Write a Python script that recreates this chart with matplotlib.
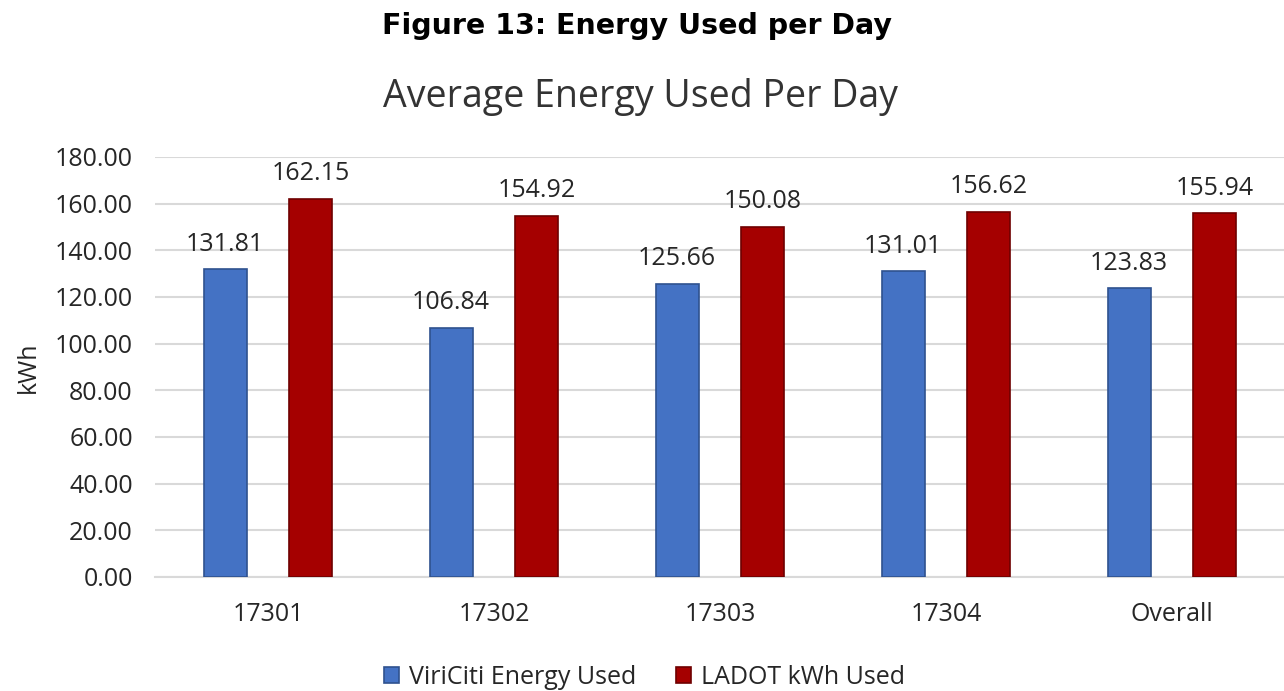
import numpy as np
import matplotlib
matplotlib.use('Agg')
import matplotlib.pyplot as plt

categories = ['17301', '17302', '17303', '17304', 'Overall']
viriciti = [131.81, 106.84, 125.66, 131.01, 123.83]
ladot = [162.15, 154.92, 150.08, 156.62, 155.94]

plt.rcParams['font.family'] = ['Open Sans', 'DejaVu Sans']

fig = plt.figure(figsize=(12.84, 6.91), dpi=100)
ax = fig.add_axes([155 / 1284, 1 - 577 / 691, 1130 / 1284, 420 / 691])

x = np.arange(len(categories))
w = 0.19
b1 = ax.bar(x - 0.19, viriciti, w, color='#4472C4', edgecolor='#2F528F', linewidth=1.2,
            label='ViriCiti Energy Used', zorder=3)
b2 = ax.bar(x + 0.19, ladot, w, color='#A50000', edgecolor='#6E0000', linewidth=1.2,
            label='LADOT kWh Used', zorder=3)

for bars in (b1, b2):
    ax.bar_label(bars, labels=[f'{v:.2f}' for v in bars.datavalues], padding=9,
                 fontsize=18, color='#262626')

ax.set_xlim(-0.5, 4.5)
ax.set_ylim(0, 180)
ax.set_yticks(np.arange(0, 181, 20))
ax.set_yticklabels([f'{v:.2f}' for v in np.arange(0, 181, 20)])
ax.set_xticks(x)
ax.set_xticklabels(categories)
ax.tick_params(axis='both', length=0, labelsize=18)
ax.tick_params(axis='y', pad=16)
ax.tick_params(axis='x', pad=18)
for lab in ax.get_xticklabels() + ax.get_yticklabels():
    lab.set_color('#262626')

ax.grid(axis='y', color='#D9D9D9', linewidth=1.5, zorder=0)
for side in ('top', 'right', 'left'):
    ax.spines[side].set_visible(False)
ax.spines['bottom'].set_color('#D9D9D9')
ax.spines['bottom'].set_linewidth(1.5)

ax.set_ylabel('kWh', fontsize=18, color='#262626', labelpad=10)

fig.text(0.496, 0.962, 'Figure 13: Energy Used per Day', ha='center', va='center',
         fontsize=20.5, fontweight='bold', family='DejaVu Sans')
fig.text(0.499, 0.86, 'Average Energy Used Per Day', ha='center', va='center',
         fontsize=27, color='#333333')

fig.legend(handles=[b1, b2], loc='center', bbox_to_anchor=(0.502, 0.02), ncol=2,
           frameon=False, fontsize=18, handlelength=0.6, handleheight=0.6,
           handletextpad=0.4, columnspacing=1.6, labelcolor='#262626')

fig.savefig('out.png', dpi=100)
